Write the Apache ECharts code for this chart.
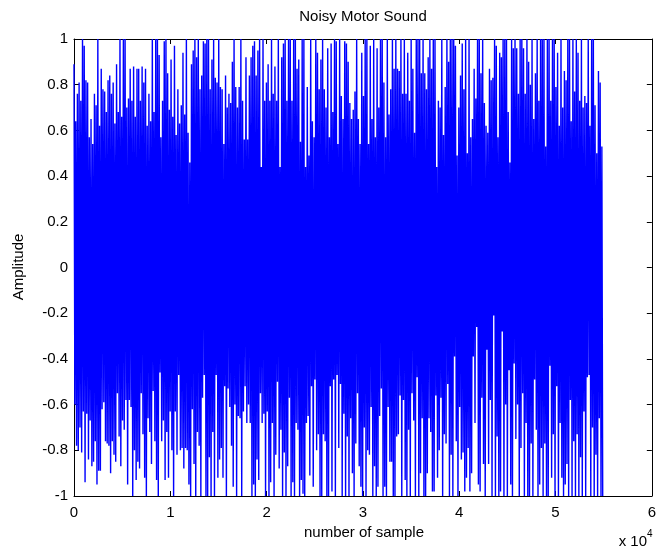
<!DOCTYPE html>
<html>
<head>
<meta charset="utf-8">
<script src="https://cdn.jsdelivr.net/npm/echarts@6/dist/echarts.min.js"></script>
<style>
html,body{margin:0;padding:0;background:#fff;}
#chart{width:659px;height:551px;}
</style>
</head>
<body>
<div id="chart"></div>
<script>
// Upper excursions of the noisy signal, read left to right
var peaksA = [0.89,0.64,0.76,0.81,0.73,1,0.97,0.82,0.81,0.57,
0.65,0.54,0.76,0.71,1,0.62,0.87,0.78,0.77,0.68,
0.82,0.84,0.76,0.81,0.63,0.89,0.68,1,0.66,1,
1,0.70,0.74,0.87,0.73,0.88,0.66,0.87,0.87,0.73,
0.88,0.81,0.87,0.62,0.76,0.64,1,0.68,1,1,
0.93,0.57,0.73,0.99,1,0.85,0.69,0.91,0.66,0.97,
0.58,0.78,0.63,0.71,0.94,0.67,1,0.59,0.46,0.89,
0.95,1,0.92,1,0.78,0.84,0.99,0.98,1,1,
0.78,0.91,1,0.83,0.81,1,0.79,0.78,0.54,0.84,
0.70,0.76,0.72,0.90,1,0.79,0.70];
var peaksB = [0.79,1,0.73,0.56,0.92,0.56,0.84,0.92,0.97,0.99,
0.84,0.95,1,0.44,1,0.73,0.81,0.89,0.73,1,
0.76,0.88,0.73,1,0.44,0.92,0.98,1,0.73,1,
1,0.73,1,1,0.87,0.91,0.55,1,1,0.44,
0.79,0.49,1,0.64,0.57,1,0.94,0.78,0.91,1,
0.78,0.70,0.96,0.57,0.98,0.68,1,0.99,0.54,1,
0.75,0.65,0.99,0.98,0.90,0.72,0.65,0.69,0.77,1,
0.65,0.54,0.94,0.75,1,1,0.54,0.97,0.65,1,
0.57,0.96,0.70,1,1,0.81,0.57,1,0.67,0.78,
1,0.87,1,0.87,0.86,1,0.76,1,0.76,0.94,
0.73,1,0.87,0.59,1,1,1,0.85,1];
var peaksC = [0.85,0.78,0.92,1,0.87,1,1,0.44,0.73,0.70,
1,0.58,0.79,1,0.90,1,1,1,0.97,0.49,
0.70,0.84,0.98,0.78,1,0.50,1,0.57,0.65,0.87,
0.74,1,1,0.85,1,0.72,0.62,0.59,0.87,0.82,
0.83,1,0.97,0.57,0.94,0.92,1,1,1,0.68,
0.46,1,0.96,1,0.96,0.76,1,1,0.96,0.76,
1,0.90,0.80,1,0.65,0.85,1,0.73,1,1,
1,0.53,1,1,0.73,1,1,0.79,0.94,0.62,
1,0.70,0.86,0.82,1,1,0.64,1,0.77,1,
0.94,0.73,1,0.70,0.75,0.72,1,0.62,1,1,
0.71,0.50,0.86,0.81,0.53];
// Lower excursions of the noisy signal, read left to right
var troughsA = [-0.60,-0.78,-0.80,-0.70,-0.81,-0.63,-0.94,-0.64,-0.84,-0.67,
-0.87,-0.85,-0.76,-0.95,-0.89,-0.89,-0.62,-0.59,-0.76,-0.77,
-0.78,-0.90,-0.76,-0.82,-0.85,-0.55,-0.74,-0.87,-0.67,-0.71,
-0.58,-0.95,-0.58,-0.61,-1,-0.80,-0.93,-0.85,-0.88,-0.55,
-0.73,-0.92,-1,-0.66,-0.72,-0.86,-0.54,-0.76,-0.93,-1,
-0.46,-0.76,-0.67,-0.93,-0.72,-0.92,-0.63,-0.80,-1,-0.63,
-0.82,-0.47,-0.80,-0.79,-0.88,-0.79,-0.80,-0.95,-1,-0.62,
-0.86,-1,-0.72,-0.78,-1,-0.57,-0.47,-1,-1,-0.83,
-1,-0.72,-1,-0.47,-0.92,-0.84,-0.79,-0.92,-0.52,-1,
-0.53,-0.61,-0.78,-0.96,-0.60,-1,-0.65];
var troughsB = [-0.66,-1,-0.63,-0.52,-0.68,-0.60,-0.68,-1,-0.95,-1,
-0.84,-0.93,-0.55,-0.68,-0.64,-1,-0.63,-1,-0.94,-0.68,
-1,-0.82,-0.50,-0.88,-0.71,-1,-0.81,-1,-0.87,-0.57,
-1,-0.94,-1,-0.68,-0.71,-1,-0.93,-0.99,-1,-0.68,
-0.65,-0.91,-0.52,-0.96,-0.49,-0.80,-0.73,-1,-1,-0.73,
-0.76,-1,-1,-0.52,-0.98,-0.49,-1,-0.47,-0.79,-0.51,
-1,-0.64,-1,-0.74,-1,-0.66,-0.90,-1,-0.77,-0.55,
-0.87,-0.96,-1,-0.70,-1,-0.80,-0.82,-0.61,-1,-0.87,
-1,-0.96,-0.65,-0.53,-1,-0.96,-1,-0.61,-0.85,-0.85,
-1,-1,-0.74,-0.73,-0.56,-1,-0.58,-0.93,-1,-0.71,
-1,-0.55,-0.67,-1,-0.48,-1,-0.90,-0.66,-1,-1];
var troughsC = [-0.90,-0.66,-0.72,-0.98,-0.98,-0.56,-0.92,-0.80,-0.57,-1,
-0.73,-0.77,-0.51,-1,-0.82,-1,-0.39,-0.76,-1,-0.61,
-0.84,-0.81,-0.98,-0.92,-0.79,-0.98,-0.90,-0.39,-0.68,-0.26,
-0.95,-0.98,-0.57,-0.86,-1,-0.36,-0.86,-0.58,-1,-0.21,
-1,-0.74,-1,-0.98,-0.28,-1,-0.60,-1,-0.45,-0.95,
-1,-0.42,-0.75,-0.60,-1,-0.79,-0.55,-1,-0.68,-1,
-1,-0.77,-1,-0.49,-0.71,-1,-0.95,-0.79,-1,-0.77,
-1,-1,-0.43,-0.92,-0.73,-1,-0.52,-1,-0.68,-0.92,
-1,-0.95,-0.86,-1,-0.58,-1,-0.76,-1,-0.73,-1,
-0.83,-1,-0.63,-1,-0.48,-0.47,-1,-0.70,-1,-0.82,
-1,-0.66,-1,-1];
var lastSample = 54900;
var xTicks = [0,10000,20000,30000,40000,50000,60000];
var yTicks = [-1,-0.8,-0.6,-0.4,-0.2,0,0.2,0.4,0.6,0.8,1];

var peaks = peaksA.concat(peaksB, peaksC);
var troughs = troughsA.concat(troughsB, troughsC);
var N = Math.min(peaks.length, troughs.length);
var step = lastSample / (2 * N - 1);
var data = [];
for (var i = 0; i < N; i++) {
  data.push([2 * i * step, peaks[i]]);
  data.push([(2 * i + 1) * step, troughs[i]]);
}

var FONT = 'Liberation Sans, Arial, Helvetica, sans-serif';
var chart = echarts.init(document.getElementById('chart'), null, {renderer: 'canvas'});
var axisLineStyle = {color: '#000', width: 1};
chart.setOption({
  animation: false,
  backgroundColor: '#fff',
  grid: {left: 74, top: 39, width: 579, height: 457, containLabel: false},
  xAxis: [{
    type: 'value', min: xTicks[0], max: xTicks[xTicks.length - 1], interval: xTicks[1] - xTicks[0],
    position: 'bottom',
    axisLine: {show: true, onZero: false, lineStyle: axisLineStyle},
    axisTick: {show: true, inside: true, length: 5, lineStyle: axisLineStyle},
    axisLabel: {show: true, margin: 9, color: '#000', fontSize: 15, fontFamily: FONT,
      formatter: function (v) { return String(Math.round(v / 1000) / 10); }},
    splitLine: {show: false}
  }, {
    type: 'value', min: xTicks[0], max: xTicks[xTicks.length - 1], interval: xTicks[1] - xTicks[0],
    position: 'top',
    axisLine: {show: true, onZero: false, lineStyle: axisLineStyle},
    axisTick: {show: true, inside: true, length: 5, lineStyle: axisLineStyle},
    axisLabel: {show: false},
    splitLine: {show: false}
  }],
  yAxis: [{
    type: 'value', min: yTicks[0], max: yTicks[yTicks.length - 1], interval: 0.2,
    position: 'left',
    axisLine: {show: true, onZero: false, lineStyle: axisLineStyle},
    axisTick: {show: true, inside: true, length: 5, lineStyle: axisLineStyle},
    axisLabel: {show: true, margin: 6, color: '#000', fontSize: 15, fontFamily: FONT,
      formatter: function (v) { var r = Math.round(v * 10) / 10; return String(r === 0 ? 0 : r); }},
    splitLine: {show: false}
  }, {
    type: 'value', min: yTicks[0], max: yTicks[yTicks.length - 1], interval: 0.2,
    position: 'right',
    axisLine: {show: true, onZero: false, lineStyle: axisLineStyle},
    axisTick: {show: true, inside: true, length: 5, lineStyle: axisLineStyle},
    axisLabel: {show: false},
    splitLine: {show: false}
  }],
  series: [{
    type: 'line',
    xAxisIndex: 0, yAxisIndex: 0,
    data: data,
    symbol: 'none',
    showSymbol: false,
    sampling: null,
    clip: true,
    lineStyle: {color: '#0000ff', width: 1.4},
    itemStyle: {color: '#0000ff'},
    emphasis: {disabled: true}
  }],
  graphic: [
    {type: 'text', x: 363, y: 17, style: {text: 'Noisy Motor Sound', fill: '#000', font: '15px ' + FONT, align: 'center', verticalAlign: 'middle'}},
    {type: 'text', x: 364, y: 533, style: {text: 'number of sample', fill: '#000', font: '15px ' + FONT, align: 'center', verticalAlign: 'middle'}},
    {type: 'text', x: 19, y: 267, rotation: Math.PI / 2, style: {text: 'Amplitude', fill: '#000', font: '15px ' + FONT, align: 'center', verticalAlign: 'middle'}},
    {type: 'text', x: 647, y: 542, style: {text: 'x 10', fill: '#000', font: '15px ' + FONT, align: 'right', verticalAlign: 'middle'}},
    {type: 'text', x: 647, y: 534, style: {text: '4', fill: '#000', font: '10px ' + FONT, align: 'left', verticalAlign: 'middle'}}
  ]
});
</script>
</body>
</html>
